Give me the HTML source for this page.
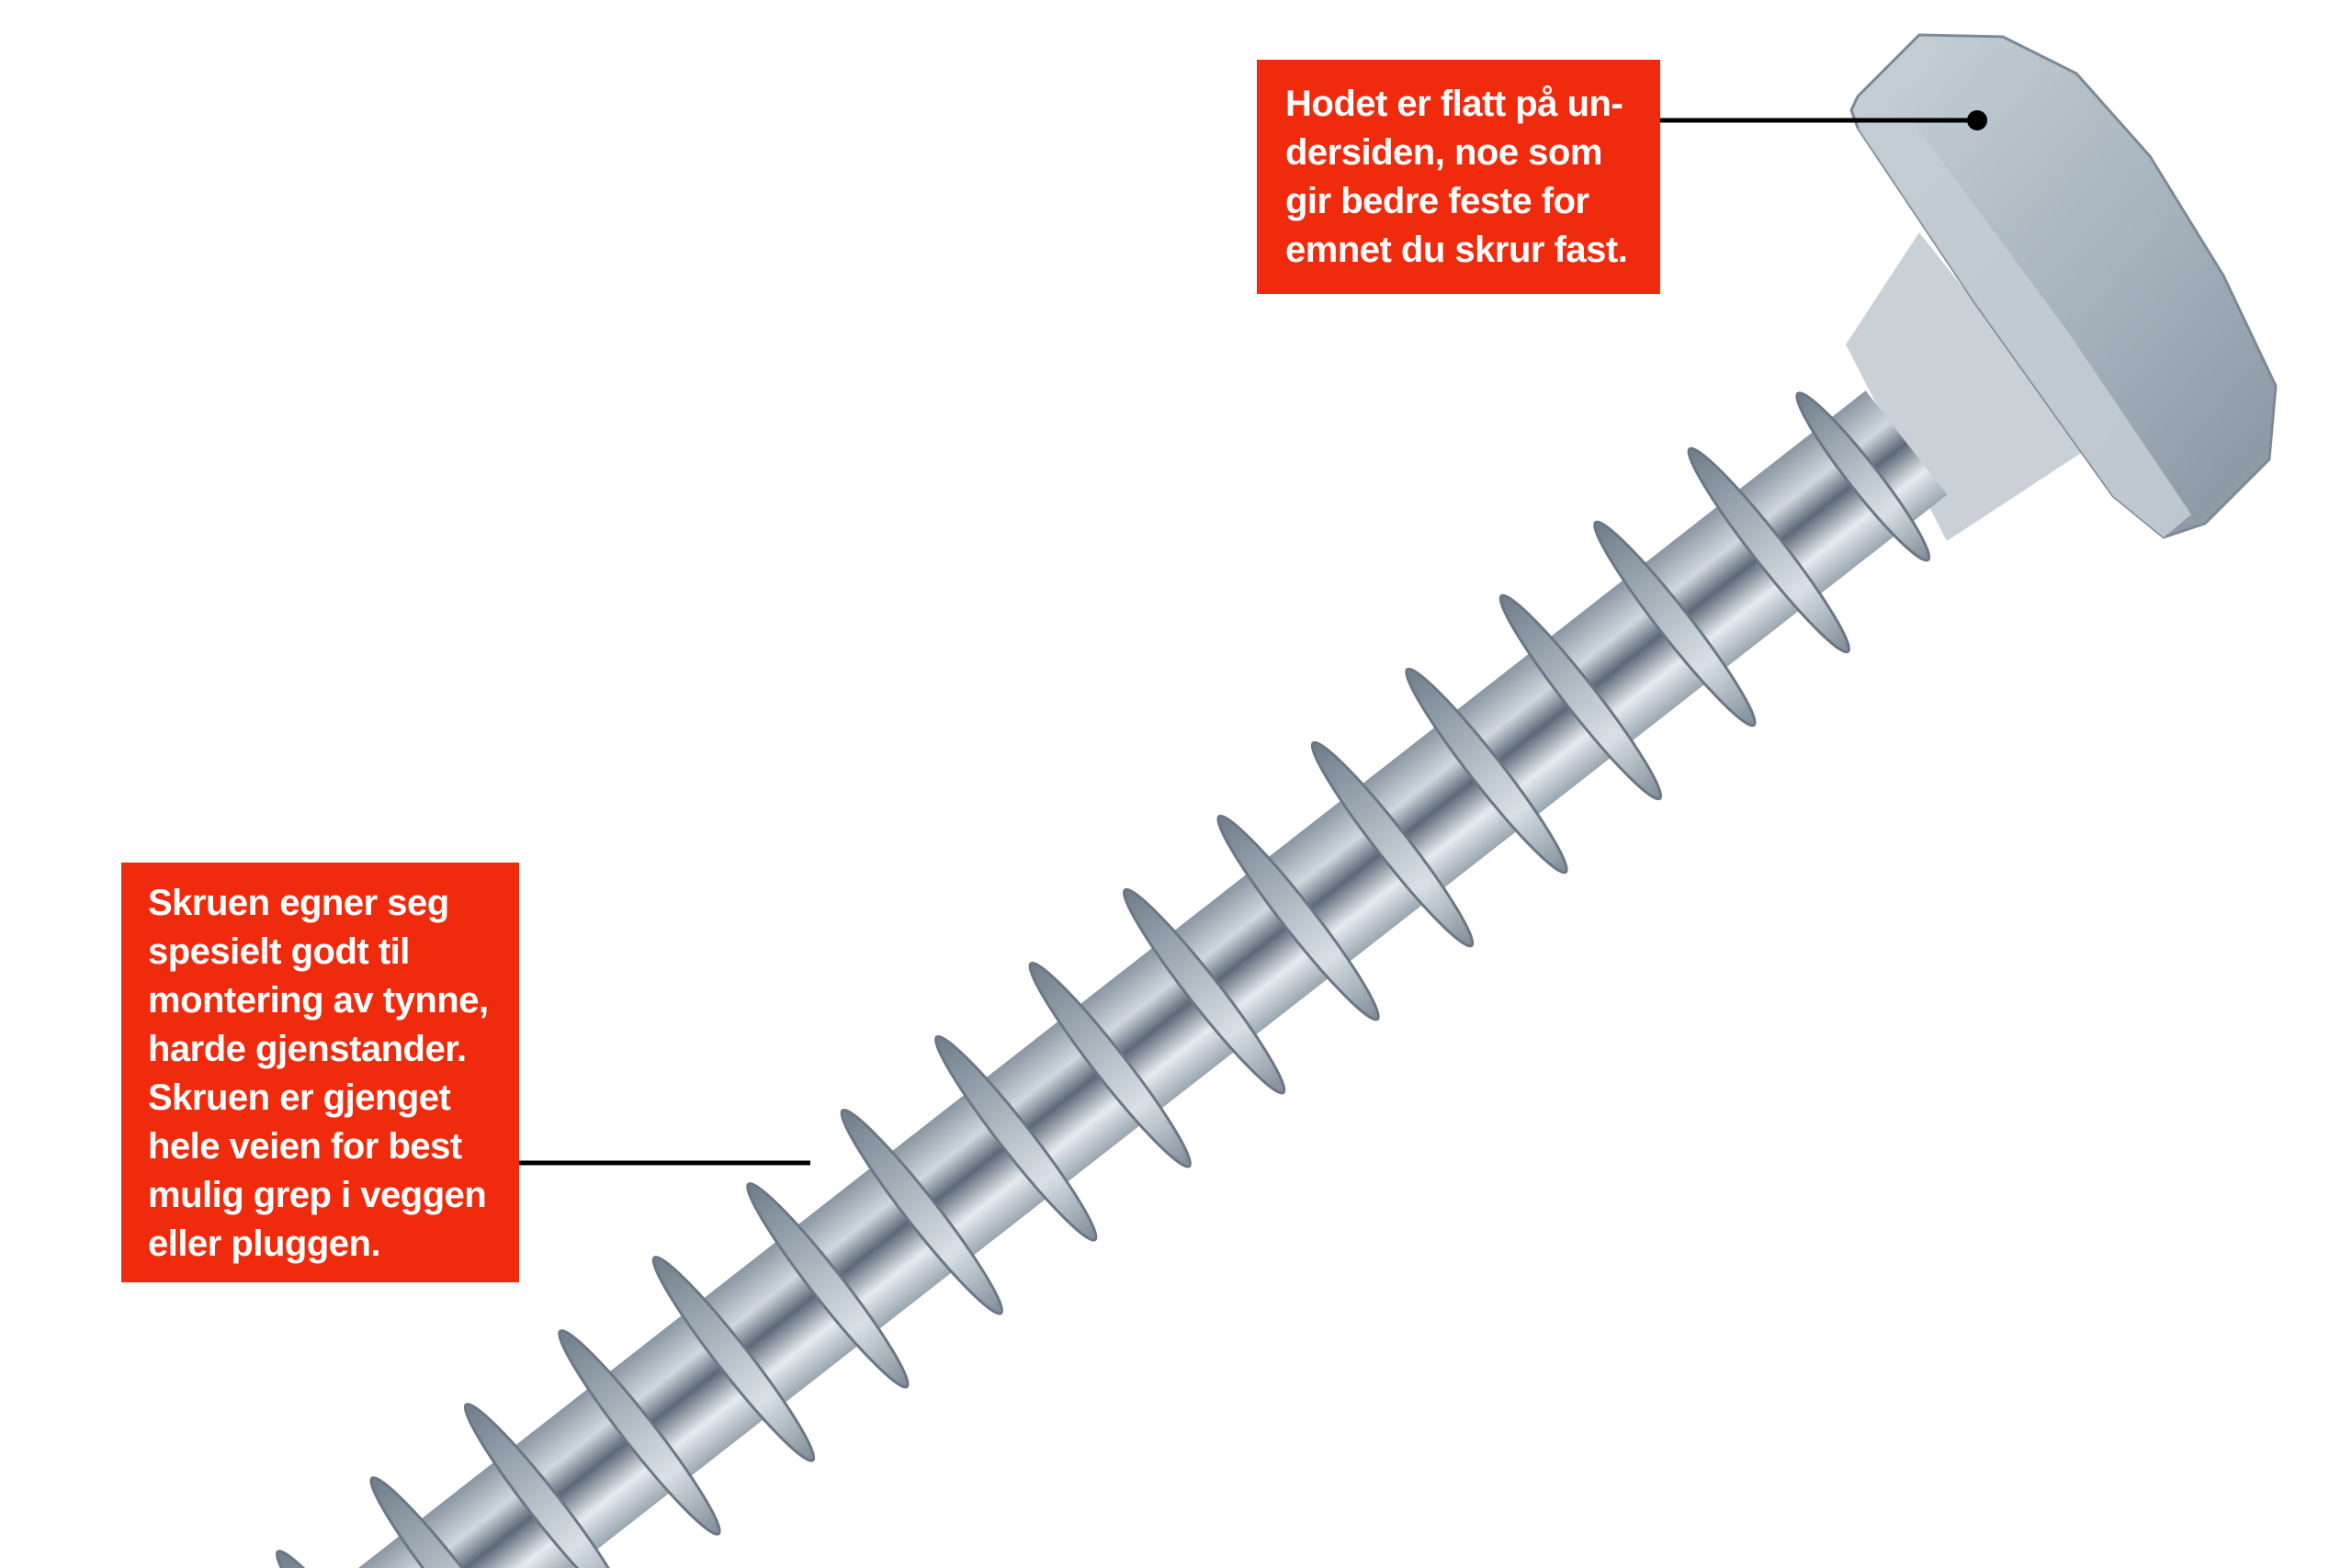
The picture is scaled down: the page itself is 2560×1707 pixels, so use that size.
<!DOCTYPE html>
<html><head><meta charset="utf-8"><style>
html,body{margin:0;padding:0;background:#fff;width:2560px;height:1707px;overflow:hidden;}
body{position:relative;font-family:"Liberation Sans",sans-serif;}
.box{position:absolute;background:#f02a0c;color:#fff;font-weight:bold;font-size:40px;line-height:53px;letter-spacing:-0.5px;box-sizing:border-box;}
svg{position:absolute;left:0;top:0;display:block;}
</style></head><body>
<svg width="2560" height="1707" viewBox="0 0 2560 1707">
<defs>
<linearGradient id="core" x1="0" y1="0" x2="0" y2="1">
<stop offset="0" stop-color="#9aa6b0"/><stop offset="0.25" stop-color="#e6ebee"/><stop offset="0.5" stop-color="#5d6878"/><stop offset="0.7" stop-color="#d0d8de"/><stop offset="1" stop-color="#8a96a2"/>
</linearGradient>
<linearGradient id="thr" x1="0" y1="0" x2="0" y2="1">
<stop offset="0" stop-color="#7d8a96"/><stop offset="0.3" stop-color="#d9e0e5"/><stop offset="0.6" stop-color="#aab5be"/><stop offset="1" stop-color="#6f7c89"/>
</linearGradient>
<linearGradient id="head" x1="0" y1="0" x2="1" y2="1">
<stop offset="0" stop-color="#c9d2d8"/><stop offset="0.5" stop-color="#a9b5bf"/><stop offset="1" stop-color="#8794a0"/>
</linearGradient>
</defs>
<path d="M2089,253 L2150,330 L2279,484 L2119,589 L2009,375 Z" fill="#c9d1d7"/>
<g transform="translate(2075,482) rotate(142)">
<rect x="0" y="-72" width="2400" height="144" fill="url(#core)"/>
<g fill="url(#thr)" stroke="#6b7784" stroke-width="3">
<ellipse cx="60" cy="0" rx="16" ry="115"/>
<ellipse cx="190" cy="0" rx="17" ry="140"/>
<ellipse cx="320" cy="0" rx="17" ry="140"/>
<ellipse cx="450" cy="0" rx="17" ry="140"/>
<ellipse cx="580" cy="0" rx="17" ry="140"/>
<ellipse cx="710" cy="0" rx="17" ry="140"/>
<ellipse cx="840" cy="0" rx="17" ry="140"/>
<ellipse cx="970" cy="0" rx="17" ry="140"/>
<ellipse cx="1100" cy="0" rx="17" ry="140"/>
<ellipse cx="1230" cy="0" rx="17" ry="140"/>
<ellipse cx="1360" cy="0" rx="17" ry="140"/>
<ellipse cx="1490" cy="0" rx="17" ry="140"/>
<ellipse cx="1620" cy="0" rx="17" ry="140"/>
<ellipse cx="1750" cy="0" rx="17" ry="140"/>
<ellipse cx="1880" cy="0" rx="17" ry="140"/>
<ellipse cx="2010" cy="0" rx="17" ry="140"/>
<ellipse cx="2140" cy="0" rx="17" ry="140"/>
<ellipse cx="2270" cy="0" rx="17" ry="140"/>
</g>
</g>
<path d="M2022,105 L2089,38 L2180,40 L2260,80 L2340,170 L2420,300 L2477,420 L2470,500 L2400,570 L2355,585 L2300,540 L2150,330 L2022,139 L2015,120 Z" fill="url(#head)" stroke="#7d8995" stroke-width="3"/>
<path d="M2022,139 L2150,330 L2300,540 L2355,585 L2385,560 L2250,360 L2080,130 Z" fill="#c3ccd3" opacity="0.9"/>
<line x1="1807" y1="131" x2="2152" y2="131" stroke="#000" stroke-width="5"/>
<circle cx="2152" cy="131" r="11" fill="#000"/>
<line x1="565" y1="1266" x2="882" y2="1266" stroke="#000" stroke-width="5"/>
</svg>
<div class="box" style="left:1368px;top:65px;width:439px;height:255px;padding:22px 0 0 31px;">Hodet er flatt på un-<br>dersiden, noe som<br>gir bedre feste for<br>emnet du skrur fast.</div>
<div class="box" style="left:132px;top:939px;width:433px;height:457px;padding:18px 0 0 29px;">Skruen egner seg<br>spesielt godt til<br>montering av tynne,<br>harde gjenstander.<br>Skruen er gjenget<br>hele veien for best<br>mulig grep i veggen<br>eller pluggen.</div>
</body></html>
